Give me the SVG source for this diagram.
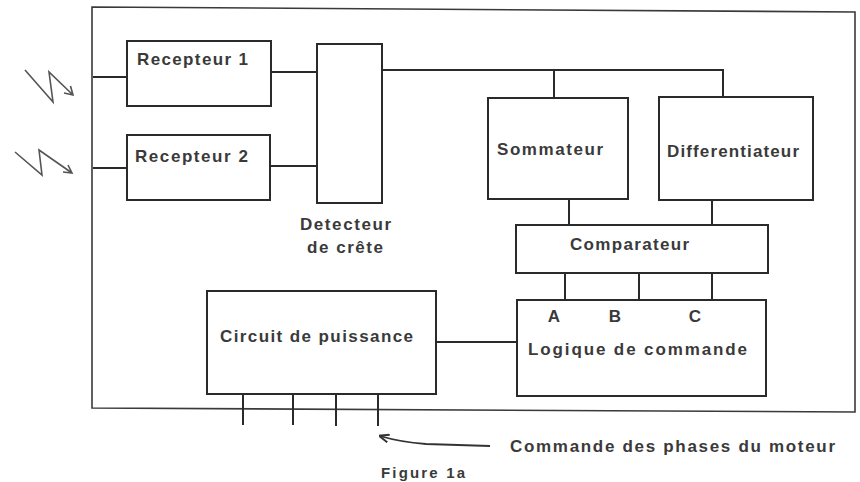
<svg xmlns="http://www.w3.org/2000/svg" width="860" height="482" viewBox="0 0 860 482">
<defs>
<style>
.box{fill:none;stroke:#2a2a2a;stroke-width:2}
.frame{fill:none;stroke:#3a3a3a;stroke-width:1.6}
.ln{fill:none;stroke:#2a2a2a;stroke-width:2}
.bolt{fill:none;stroke:#555;stroke-width:1.6;stroke-linejoin:miter}
.t{font-family:"Liberation Sans",Arial,sans-serif;font-size:17px;fill:#3a3a3a;font-weight:bold}
</style>
<marker id="ah2" viewBox="0 0 10 10" refX="9" refY="5" markerWidth="10" markerHeight="10" orient="auto" markerUnits="userSpaceOnUse">
<path d="M0,1 L10,5 L0,9" fill="none" stroke="#333" stroke-width="2"/>
</marker>
</defs>
<rect width="860" height="482" fill="#fff"/>
<g id="frame"><path class="frame" d="M92,7 L855,12 L855,412 L92,408 Z"/></g>
<g id="bolts">
<path class="bolt" d="M25,70 L53,102 L49,72 L73,95 M70.5,86 L73,95 L64,93"/>
<path class="bolt" d="M15,152 L42,175 L39,150 L72,173 M68,165 L72,173 L63,172"/>
</g>
<g id="recepteur1"><rect class="box" x="127" y="41" width="144" height="65"/><text class="t" x="137" y="65" textLength="111" lengthAdjust="spacing">Recepteur 1</text></g>
<g id="recepteur2"><rect class="box" x="127" y="135" width="143" height="65"/><text class="t" x="135" y="162" textLength="113" lengthAdjust="spacing">Recepteur 2</text></g>
<g id="detecteur"><rect class="box" x="317" y="44" width="65" height="159"/>
<text class="t" x="300" y="230" textLength="91" lengthAdjust="spacing">Detecteur</text>
<text class="t" x="307" y="253" textLength="76" lengthAdjust="spacing">de crête</text></g>
<g id="sommateur"><rect class="box" x="488" y="98" width="140" height="101"/><text class="t" x="497" y="155" textLength="106" lengthAdjust="spacing">Sommateur</text></g>
<g id="differentiateur"><rect class="box" x="659" y="97" width="154" height="103"/><text class="t" x="667" y="157" textLength="132" lengthAdjust="spacing">Differentiateur</text></g>
<g id="comparateur"><rect class="box" x="516" y="225" width="252" height="48"/><text class="t" x="570" y="250" textLength="119" lengthAdjust="spacing">Comparateur</text></g>
<g id="logique"><rect class="box" x="517" y="300" width="249" height="96"/>
<text class="t" x="554" y="322" text-anchor="middle">A</text>
<text class="t" x="615" y="322" text-anchor="middle">B</text>
<text class="t" x="695" y="322" text-anchor="middle">C</text>
<text class="t" x="528" y="355" textLength="219" lengthAdjust="spacing">Logique de commande</text></g>
<g id="circuit"><rect class="box" x="207" y="291" width="229" height="103"/><text class="t" x="220" y="342" textLength="193" lengthAdjust="spacing">Circuit de puissance</text></g>
<g id="connectors">
<path class="ln" d="M93,77 H127 M93,168 H127"/>
<path class="ln" d="M271,72 H317 M270,166 H317"/>
<path class="ln" d="M382,70 H723 V97 M554,70 V98"/>
<path class="ln" d="M569,199 V225 M712,200 V225"/>
<path class="ln" d="M565,273 V300 M639,273 V300 M712,273 V300"/>
<path class="ln" d="M436,342 H517"/>
<path class="ln" d="M243,394 V425 M293,394 V425 M336,394 V426 M378,394 V426"/>
<path fill="none" stroke="#333" stroke-width="1.8" d="M490,446 L426,444 Q400,442 380,436" marker-end="url(#ah2)"/>
</g>
<g id="labels">
<text class="t" x="510" y="452" textLength="325" lengthAdjust="spacing">Commande des phases du moteur</text>
<text class="t" x="381" y="478" textLength="84" lengthAdjust="spacing" style="font-size:15px">Figure 1a</text>
</g>
</svg>
